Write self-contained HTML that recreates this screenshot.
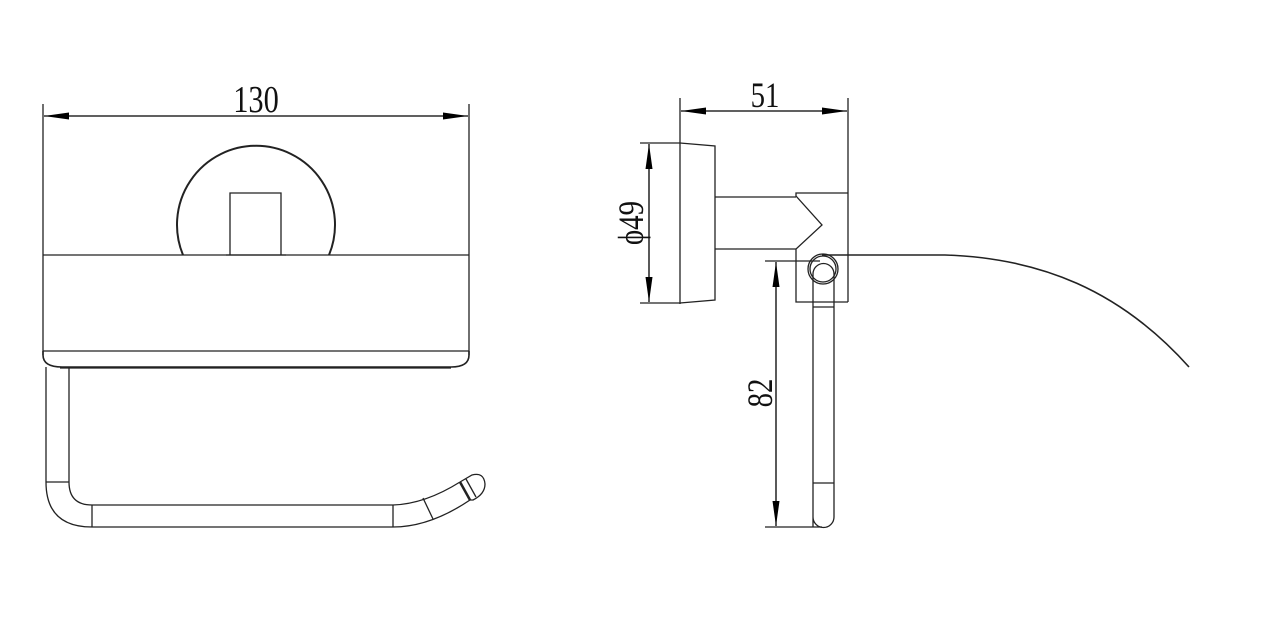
<!DOCTYPE html>
<html><head><style>
html,body{margin:0;padding:0;background:#fff;width:1262px;height:634px;overflow:hidden}
svg{display:block}
text{font-family:"Liberation Serif",serif;fill:#111}
</style></head><body>
<svg width="1262" height="634" viewBox="0 0 1262 634" xmlns="http://www.w3.org/2000/svg">
<defs>
<marker id="a" viewBox="0 0 10 10" refX="10" refY="5" markerWidth="25" markerHeight="7" markerUnits="userSpaceOnUse" orient="auto-start-reverse" preserveAspectRatio="none"><path d="M0,0 L10,5 L0,10 z" fill="#000"/></marker>
</defs>
<g fill="none" stroke="#222" stroke-width="1.3">
<!-- LEFT VIEW -->
<line x1="43" y1="104" x2="43" y2="355"/>
<line x1="469" y1="104" x2="469" y2="355"/>
<line x1="44" y1="116" x2="468" y2="116" stroke="#000" marker-start="url(#a)" marker-end="url(#a)"/>
<path d="M183,255 A79,79 0 1 1 329,255" stroke-width="2"/>
<path d="M230,255 V193 H281 V255"/>
<line x1="226" y1="255" x2="286" y2="255"/>
<line x1="43" y1="255" x2="469" y2="255"/>
<line x1="43" y1="351" x2="469" y2="351"/>
<path d="M43,351 V355 Q43,367 62,367 H451 Q469,367 469,355 V351" stroke-width="1.6"/>
<line x1="60" y1="368" x2="451" y2="368"/>
<!-- toilet bar -->
<path d="M46,367 V482 Q46,527 92,527 H393 Q430,527 470,500"/>
<path d="M69,367 V482 Q69,505 92,505 H393 Q425,504 460,482"/>
<line x1="46" y1="482" x2="69" y2="482"/>
<line x1="92" y1="505" x2="92" y2="527"/>
<line x1="393" y1="505" x2="393" y2="527"/>
<line x1="423" y1="498" x2="433" y2="519"/>
<path d="M460,482 L472,475 Q484,472 485,484 Q485,494 473,500 L470,500"/>
<line x1="460" y1="482" x2="470" y2="500" stroke-width="2.5"/>
<line x1="466" y1="479" x2="476" y2="497"/>
<!-- RIGHT VIEW -->
<line x1="680" y1="98" x2="680" y2="304"/>
<line x1="848" y1="98" x2="848" y2="302"/>
<line x1="681" y1="111" x2="847" y2="111" stroke="#000" marker-start="url(#a)" marker-end="url(#a)"/>
<line x1="640" y1="143" x2="680" y2="143"/>
<line x1="640" y1="303" x2="680" y2="303"/>
<line x1="649" y1="144" x2="649" y2="302" stroke="#000" marker-start="url(#a)" marker-end="url(#a)"/>
<path d="M680,143 L715,146 V300 L680,303"/>
<path d="M715,197 H796 M715,249 H796"/>
<path d="M848,193 H796 V196 L822,225 L796,249 V302 H848"/>
<circle cx="823" cy="269" r="15"/>
<circle cx="823" cy="269" r="13"/>
<path d="M813,527 V274 A10.5,10.5 0 0 1 834,274 V517 A10.5,10.5 0 0 1 813,517"/>
<line x1="813" y1="307" x2="834" y2="307"/>
<line x1="813" y1="483" x2="834" y2="483"/>
<line x1="765" y1="261" x2="820" y2="261"/>
<line x1="765" y1="527" x2="822" y2="527"/>
<line x1="776" y1="262" x2="776" y2="526" stroke="#000" marker-start="url(#a)" marker-end="url(#a)"/>
<path d="M822,255 H945 C1040,258 1120,290 1189,367" stroke-width="1.6"/>
</g>
<text x="256" y="112" font-size="38" text-anchor="middle" transform="translate(256 0) scale(0.8 1) translate(-256 0)">130</text>
<text x="765" y="107" font-size="36" text-anchor="middle" transform="translate(765 0) scale(0.8 1) translate(-765 0)">51</text>
<text font-size="36" text-anchor="middle" transform="translate(643 223) rotate(-90) scale(0.8 1)">ϕ49</text>
<text font-size="36" text-anchor="middle" transform="translate(772 393) rotate(-90) scale(0.8 1)">82</text>
</svg>
</body></html>
